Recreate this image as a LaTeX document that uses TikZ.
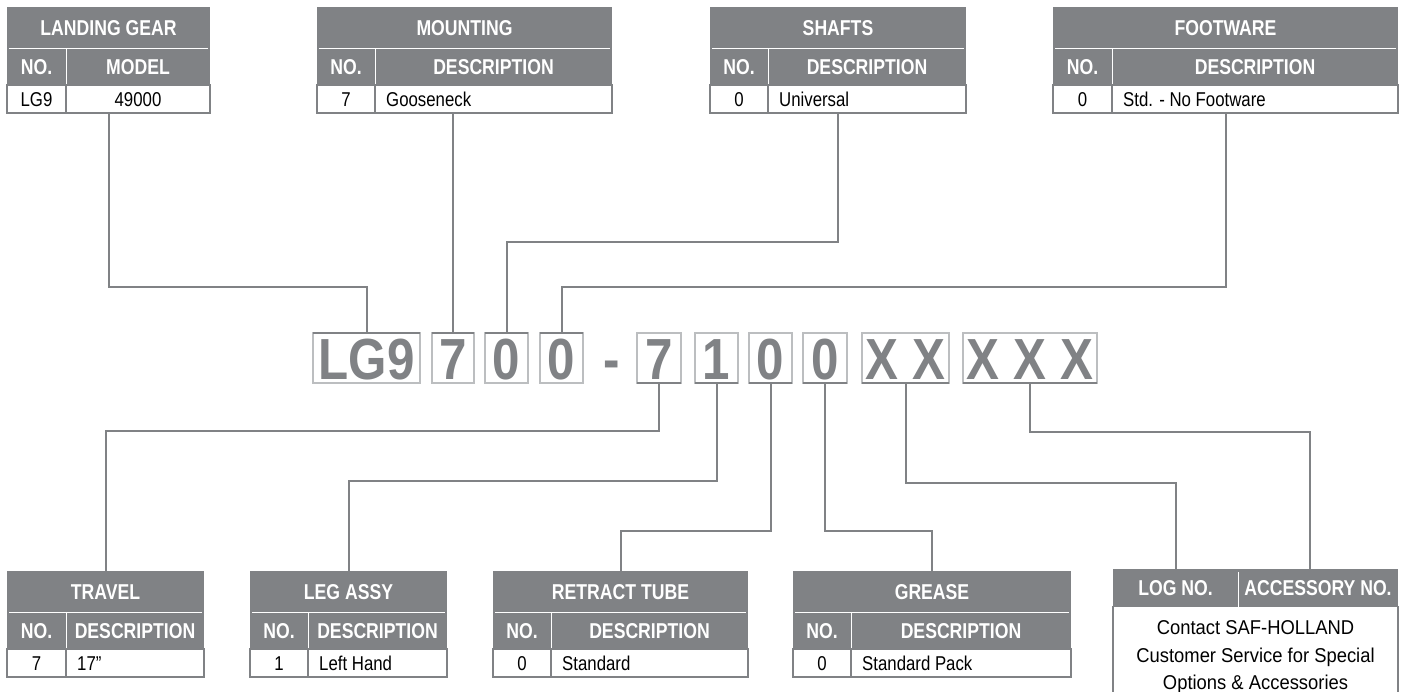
\documentclass[tikz,border=0pt]{standalone}
\usepackage{fontspec}
\setmainfont{Liberation Sans}
\newfontfamily\cf{Liberation Sans}[FakeStretch=0.82]
\newfontfamily\df{Liberation Sans}[FakeStretch=0.84]
\newfontfamily\nf{Liberation Sans}[FakeStretch=0.92]
\newfontfamily\codef{Liberation Sans}[FakeStretch=0.85]
\definecolor{dk}{HTML}{808285}
\definecolor{lt}{HTML}{BCBEC0}
\tikzset{
  conn/.style={draw=dk, line width=2pt},
  ttitle/.style={font=\cf\bfseries\fontsize{21.5}{21.5}\selectfont, text=white, inner sep=0pt, text height=15.4pt, text depth=0pt},
  tdata/.style={font=\df\fontsize{20}{20}\selectfont, text=black, inner sep=0pt, text height=14.3pt, text depth=0pt},
  tnote/.style={font=\nf\fontsize{20}{20}\selectfont, text=black, inner sep=0pt, text height=14.3pt, text depth=0pt},
  cbox/.style={draw=lt, line width=1.6pt, inner sep=0pt, outer sep=0pt, minimum height=50pt, text height=42pt, text depth=0pt, text=dk, font=\codef\bfseries\fontsize{58}{58}\selectfont},
  dkedge/.style={draw=dk, line width=2.6pt},
}
% name, xL, xR, xD, yTop, title, header2
\newcommand\mytab[7]{%
  \fill[dk] (#2,#5) rectangle (#3,#5+78);
  \draw[white, line width=1pt] (#2+2,#5+41) -- (#3-2,#5+41);
  \draw[white, line width=1pt] (#4,#5+41) -- (#4,#5+78);
  \draw[dk, line width=1.5pt] (#4,#5+78) -- (#4,#5+106);
  \draw[dk, line width=2pt] (#2,#5+78) rectangle (#3,#5+106);
  \node[inner sep=0pt, outer sep=0pt, minimum width={(#3-#2)*1pt}, minimum height=106pt, anchor=north west] (#1) at (#2,#5) {};
  \node[ttitle] (#1-t) at ({(#2+#3)/2},#5+21) {#6};
  \node[ttitle] (#1-h1) at ({(#2+#4)/2},#5+60) {NO.};
  \node[ttitle] (#1-h2) at ({(#4+#3)/2},#5+60) {#7};
}
\begin{document}
\begin{tikzpicture}[x=1pt,y=-1pt]
\useasboundingbox[fill=white] (0,0) rectangle (1403,691);

% ---------- code boxes ----------
\node[cbox, minimum width=107pt] (cLG) at (366.5,358) {LG9};
\node[cbox, minimum width=42pt] (cMount) at (453,358) {7};
\node[cbox, minimum width=43pt] (cShaft) at (506.5,358) {0};
\node[cbox, minimum width=43pt] (cFoot) at (561.5,358) {0};
\node[cbox, draw=none] (cDash) at (611.5,358) {-};
\node[cbox, minimum width=44pt] (cTravel) at (659,358) {7};
\node[cbox, minimum width=43pt] (cLeg) at (716.5,358) {1};
\node[cbox, minimum width=43pt] (cRetract) at (770.5,358) {0};
\node[cbox, minimum width=44pt] (cGrease) at (825,358) {0};
\node[cbox, minimum width=87pt] (cLogNo) at (905.5,358) {X X};
\node[cbox, minimum width=134pt] (cAcc) at (1030,358) {X X X};

\foreach \n in {cLG,cMount,cShaft,cFoot}
  \draw[dkedge] (\n.north west) -- (\n.north east);
\foreach \n in {cTravel,cLeg,cRetract,cGrease,cLogNo,cAcc}
  \draw[dkedge] (\n.south west) -- (\n.south east);

% ---------- top tables ----------
\mytab{tLG}{7}{210}{66}{7}{LANDING GEAR}{MODEL}
\node[tdata] (tLG-n) at (36.5,99) {LG9};
\node[tdata] (tLG-d) at (138,99) {49000};

\mytab{tMount}{317}{612}{375}{7}{MOUNTING}{DESCRIPTION}
\node[tdata] (tMount-n) at (346,99) {7};
\node[tdata, anchor=west] (tMount-d) at (386,99) {Gooseneck};

\mytab{tShaft}{710}{966}{768}{7}{SHAFTS}{DESCRIPTION}
\node[tdata] (tShaft-n) at (739,99) {0};
\node[tdata, anchor=west] (tShaft-d) at (779,99) {Universal};

\mytab{tFoot}{1053}{1398}{1112}{7}{FOOTWARE}{DESCRIPTION}
\node[tdata] (tFoot-n) at (1082.5,99) {0};
\node[tdata, anchor=west] (tFoot-d) at (1123,99) {Std. - No Footware};

% ---------- bottom tables ----------
\mytab{bTravel}{7}{204}{66}{571}{TRAVEL}{DESCRIPTION}
\node[tdata] (bTravel-n) at (36.5,663) {7};
\node[tdata, anchor=west] (bTravel-d) at (77,663) {17”};

\mytab{bLeg}{250}{447}{308}{571}{LEG ASSY}{DESCRIPTION}
\node[tdata] (bLeg-n) at (279,663) {1};
\node[tdata, anchor=west] (bLeg-d) at (319,663) {Left Hand};

\mytab{bRetract}{493}{748}{551}{571}{RETRACT TUBE}{DESCRIPTION}
\node[tdata] (bRetract-n) at (522,663) {0};
\node[tdata, anchor=west] (bRetract-d) at (562,663) {Standard};

\mytab{bGrease}{793}{1071}{851}{571}{GREASE}{DESCRIPTION}
\node[tdata] (bGrease-n) at (822,663) {0};
\node[tdata, anchor=west] (bGrease-d) at (862,663) {Standard Pack};

% log / accessory box
\fill[dk] (1113,569) rectangle (1398,607);
\draw[white, line width=1pt] (1238,572) -- (1238,607);
\draw[dk, line width=2pt] (1113,606) -- (1113,695);
\draw[dk, line width=2pt] (1398,606) -- (1398,695);
\node[inner sep=0pt, outer sep=0pt, minimum width=285pt, minimum height=122pt, anchor=north west] (bLog) at (1113,569) {};
\node[ttitle] (bLog-h1) at (1175.5,588) {LOG NO.};
\node[ttitle] (bLog-h2) at (1318,588) {ACCESSORY NO.};
\node[tnote] (bLog-l1) at (1255.5,627) {Contact SAF-HOLLAND};
\node[tnote] (bLog-l2) at (1255.5,655) {Customer Service for Special};
\node[tnote] (bLog-l3) at (1255.5,682) {Options \& Accessories};
\coordinate (logA) at (1176,569);
\coordinate (logB) at (1310,569);

% ---------- connectors ----------
\draw[conn] (tLG.south) -- (tLG.south |- 0,287) -| (cLG.north);
\draw[conn] (tMount.south -| cMount.north) -- (cMount.north);
\draw[conn] (tShaft.south) -- (tShaft.south |- 0,242) -| (cShaft.north);
\draw[conn] (tFoot.south) -- (tFoot.south |- 0,287) -| (cFoot.north);
\draw[conn] (bTravel.north) -- (bTravel.north |- 0,431) -| (cTravel.south);
\draw[conn] (bLeg.north) -- (bLeg.north |- 0,481) -| (cLeg.south);
\draw[conn] (bRetract.north) -- (bRetract.north |- 0,531) -| (cRetract.south);
\draw[conn] (bGrease.north) -- (bGrease.north |- 0,531) -| (cGrease.south);
\draw[conn] (logA) -- (logA |- 0,483) -| (cLogNo.south);
\draw[conn] (logB) -- (logB |- 0,432) -| (cAcc.south);
\end{tikzpicture}
\end{document}
